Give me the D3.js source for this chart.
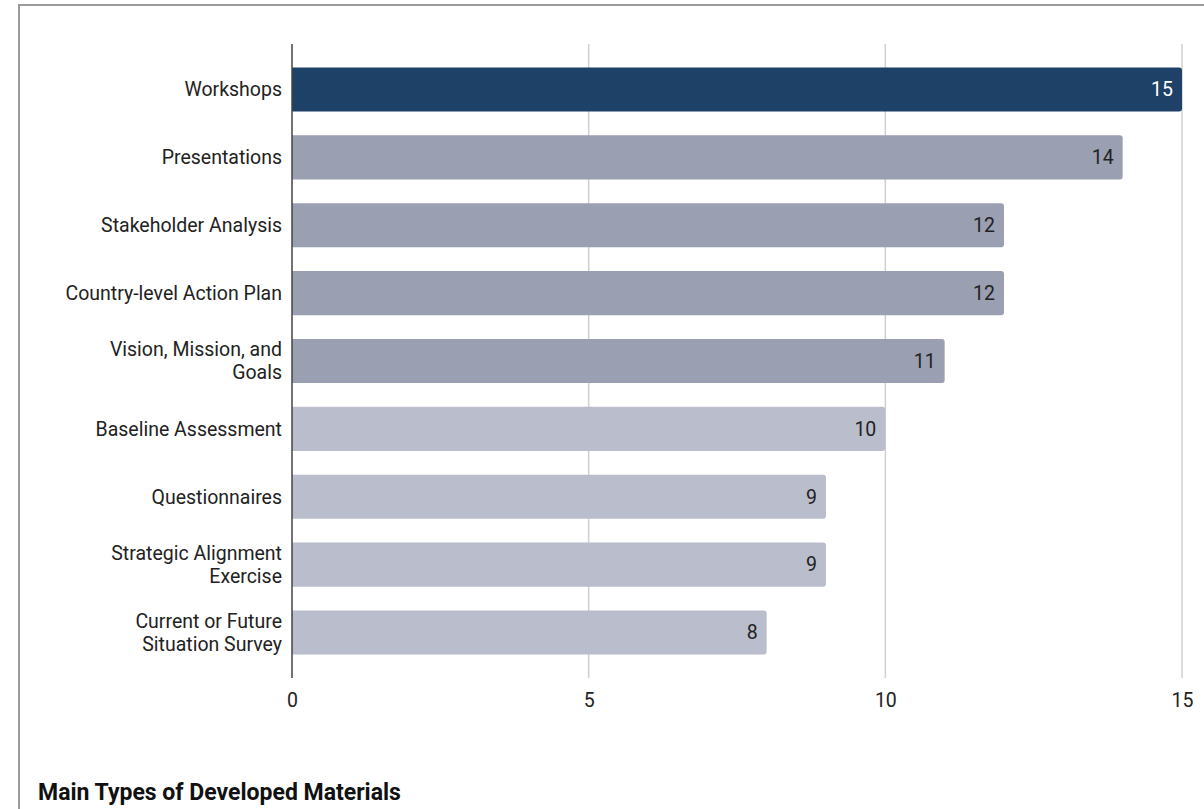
<!DOCTYPE html>
<html>
<head>
<meta charset="utf-8">
<script src="https://cdn.jsdelivr.net/npm/d3@7"></script>
<style>
  html, body { margin: 0; padding: 0; background: #fff; }
  svg { display: block; font-family: Roboto, "Noto Sans", sans-serif; }
</style>
</head>
<body>
<div id="chart"></div>
<script>
const categories = [
  "Workshops",
  "Presentations",
  "Stakeholder Analysis",
  "Country-level Action Plan",
  "Vision, Mission, and Goals",
  "Baseline Assessment",
  "Questionnaires",
  "Strategic Alignment Exercise",
  "Current or Future Situation Survey"
];
const counts = [15, 14, 12, 12, 11, 10, 9, 9, 8];
const xTicks = [0, 5, 10, 15];
const title = "Main Types of Developed Materials";

// label line breaks as seen in the picture
const labelLines = {
  "Vision, Mission, and Goals": ["Vision, Mission, and", "Goals"],
  "Strategic Alignment Exercise": ["Strategic Alignment", "Exercise"],
  "Current or Future Situation Survey": ["Current or Future", "Situation Survey"]
};

const width = 1204;
const height = 809;
const fs = 19.5;

const svg = d3.select("#chart")
  .append("svg")
  .attr("width", width)
  .attr("height", height);

// card border
svg.append("rect")
  .attr("x", 19)
  .attr("y", 5)
  .attr("width", width)
  .attr("height", height)
  .attr("fill", "#fff")
  .attr("stroke", "#9a9a9a")
  .attr("stroke-width", 2);

const x = d3.scaleLinear().domain([0, 15]).range([292, 1182]);
const y = d3.scaleBand()
  .domain(categories)
  .range([44, 678])
  .paddingInner(0.35)
  .paddingOuter(0.345);

const colorFor = (v) => {
  if (v >= 15) return "#1d4167";
  if (v >= 11) return "#9a9fb2";
  return "#babdcb";
};

// gridlines
svg.append("g")
  .selectAll("line")
  .data(xTicks.filter(d => d > 0))
  .enter()
  .append("line")
  .attr("x1", d => x(d))
  .attr("x2", d => x(d))
  .attr("y1", 44)
  .attr("y2", 678)
  .attr("stroke", "#d0d0d0")
  .attr("stroke-width", 1.5);

// bars with rounded right end
const r = 3;
svg.append("g")
  .selectAll("path")
  .data(categories)
  .enter()
  .append("path")
  .attr("d", (d, i) => {
    const x0 = x(0), x1 = x(counts[i]);
    const y0 = y(d), h = y.bandwidth();
    return `M${x0},${y0}H${x1 - r}Q${x1},${y0} ${x1},${y0 + r}` +
      `V${y0 + h - r}Q${x1},${y0 + h} ${x1 - r},${y0 + h}H${x0}Z`;
  })
  .attr("fill", (d, i) => colorFor(counts[i]));

// value labels
svg.append("g")
  .selectAll("text")
  .data(categories)
  .enter()
  .append("text")
  .attr("x", (d, i) => x(counts[i]) - 9)
  .attr("y", d => y(d) + y.bandwidth() / 2)
  .attr("dy", "0.35em")
  .attr("text-anchor", "end")
  .attr("font-size", fs)
  .attr("fill", (d, i) => counts[i] >= 15 ? "#ffffff" : "#222222")
  .text((d, i) => counts[i]);

// category labels
const labels = svg.append("g")
  .selectAll("text")
  .data(categories)
  .enter()
  .append("text")
  .attr("text-anchor", "end")
  .attr("font-size", fs)
  .attr("fill", "#222");

labels.each(function (d) {
  const lines = labelLines[d] || [d];
  const cy = y(d) + y.bandwidth() / 2;
  const lh = 23;
  const start = cy - (lines.length - 1) * lh / 2;
  d3.select(this)
    .selectAll("tspan")
    .data(lines)
    .enter()
    .append("tspan")
    .attr("x", 282)
    .attr("y", (l, j) => start + j * lh)
    .attr("dy", "0.35em")
    .text(l => l);
});

// y axis line
svg.append("line")
  .attr("x1", x(0))
  .attr("x2", x(0))
  .attr("y1", 44)
  .attr("y2", 678)
  .attr("stroke", "#444")
  .attr("stroke-width", 1.5);

// x axis tick labels
const xAxis = d3.axisBottom(x).tickValues(xTicks).tickSize(0).tickPadding(0);
const gx = svg.append("g")
  .attr("transform", "translate(0,700)")
  .call(xAxis);
gx.select(".domain").remove();
gx.selectAll("text")
  .attr("font-size", fs)
  .attr("font-family", "Roboto, sans-serif")
  .attr("fill", "#222")
  .attr("y", 0)
  .attr("dy", "0.35em");

// title
svg.append("text")
  .attr("x", 38)
  .attr("y", 800)
  .attr("font-size", 23)
  .attr("font-weight", "bold")
  .attr("fill", "#111")
  .text(title);
</script>
</body>
</html>
